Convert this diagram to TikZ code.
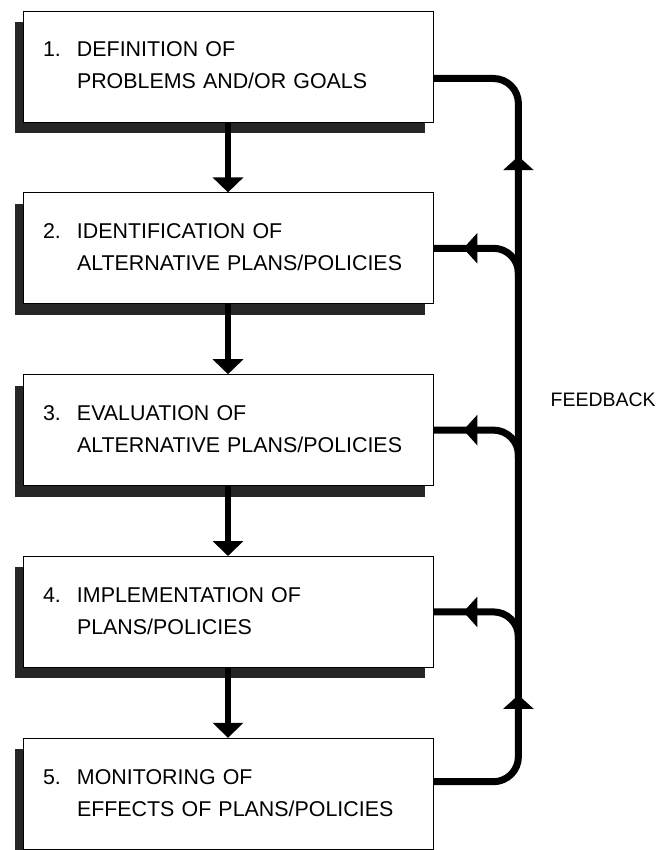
\documentclass[tikz,border=0pt]{standalone}
\usepackage{fontspec}
\setmainfont{Liberation Sans}
\usetikzlibrary{arrows.meta,positioning,shadows,calc,decorations.markings}
\newcommand{\stagetext}[3]{%
  \begin{tabular}{@{}p{34pt}@{}l@{}}
    #1. & #2\\
        & #3
  \end{tabular}}
\tikzset{stagebox/.style={
    % The shape:
    rectangle,minimum height=111pt,text width=370pt,inner xsep=20pt,
    align=left,line width=0.8pt,draw=black,fill=white,
    % The shadow
    drop shadow={shadow xshift=-8pt,shadow yshift=-11pt,fill=black!85,opacity=1},
    font=\fontsize{21.4}{32}\selectfont
  },
  down/.style={line width=6.5pt,-{Triangle[width=30pt,length=15pt]}},
  feedback/.style={line width=7pt,rounded corners=25pt},
  fbtip/.style={postaction={decorate},
    decoration={markings,mark=at position #1 with {\arrow{Triangle[width=30pt,length=14pt]}}}},
  fbtips/.style 2 args={postaction={decorate},
    decoration={markings,
      mark=at position #1 with {\arrow{Triangle[width=30pt,length=14pt]}},
      mark=at position #2 with {\arrow{Triangle[width=30pt,length=14pt]}}}}
}
\begin{document}
\begin{tikzpicture}[node distance=70pt]
  \useasboundingbox (0,0) rectangle (667pt,-850pt);

  \node (def) [stagebox] at (228pt,-66.5pt)
    {\stagetext{1}{DEFINITION OF}{PROBLEMS AND/OR GOALS}};
  \node (ide) [stagebox,below=of def]
    {\stagetext{2}{IDENTIFICATION OF}{ALTERNATIVE PLANS/POLICIES}};
  \node (eva) [stagebox,below=of ide]
    {\stagetext{3}{EVALUATION OF}{ALTERNATIVE PLANS/POLICIES}};
  \node (imp) [stagebox,below=of eva]
    {\stagetext{4}{IMPLEMENTATION OF}{PLANS/POLICIES}};
  \node (mon) [stagebox,below=of imp]
    {\stagetext{5}{MONITORING OF}{EFFECTS OF PLANS/POLICIES}};

  \node (fblabel) [right=117pt of eva.east,yshift=30pt,inner sep=0pt,
    font=\fontsize{19.5}{22}\selectfont] {FEEDBACK};

  % main sequence
  \path (def) edge[down] (ide);
  \path (ide) edge[down] (eva);
  \path (eva) edge[down] (imp);
  \path (imp) edge[down] (mon);

  % feedback loop
  \coordinate (fbbot) at ($(mon.east)+(85pt,12pt)$);
  \coordinate (fbtop) at ($(def.east)+(85pt,-12pt)$);
  \draw[feedback,fbtips={161pt}{-152pt}]
    ($(mon.east)+(0,12pt)$) -- (fbbot) -- (fbtop) -- ($(def.east)+(0,-12pt)$);
  \draw[feedback,fbtip=-30pt] ($(ide.east)+(85pt,-28pt)$) |- (ide.east);
  \draw[feedback,fbtip=-30pt] ($(eva.east)+(85pt,-28pt)$) |- (eva.east);
  \draw[feedback,fbtip=-30pt] ($(imp.east)+(85pt,-28pt)$) |- (imp.east);
\end{tikzpicture}
\end{document}
